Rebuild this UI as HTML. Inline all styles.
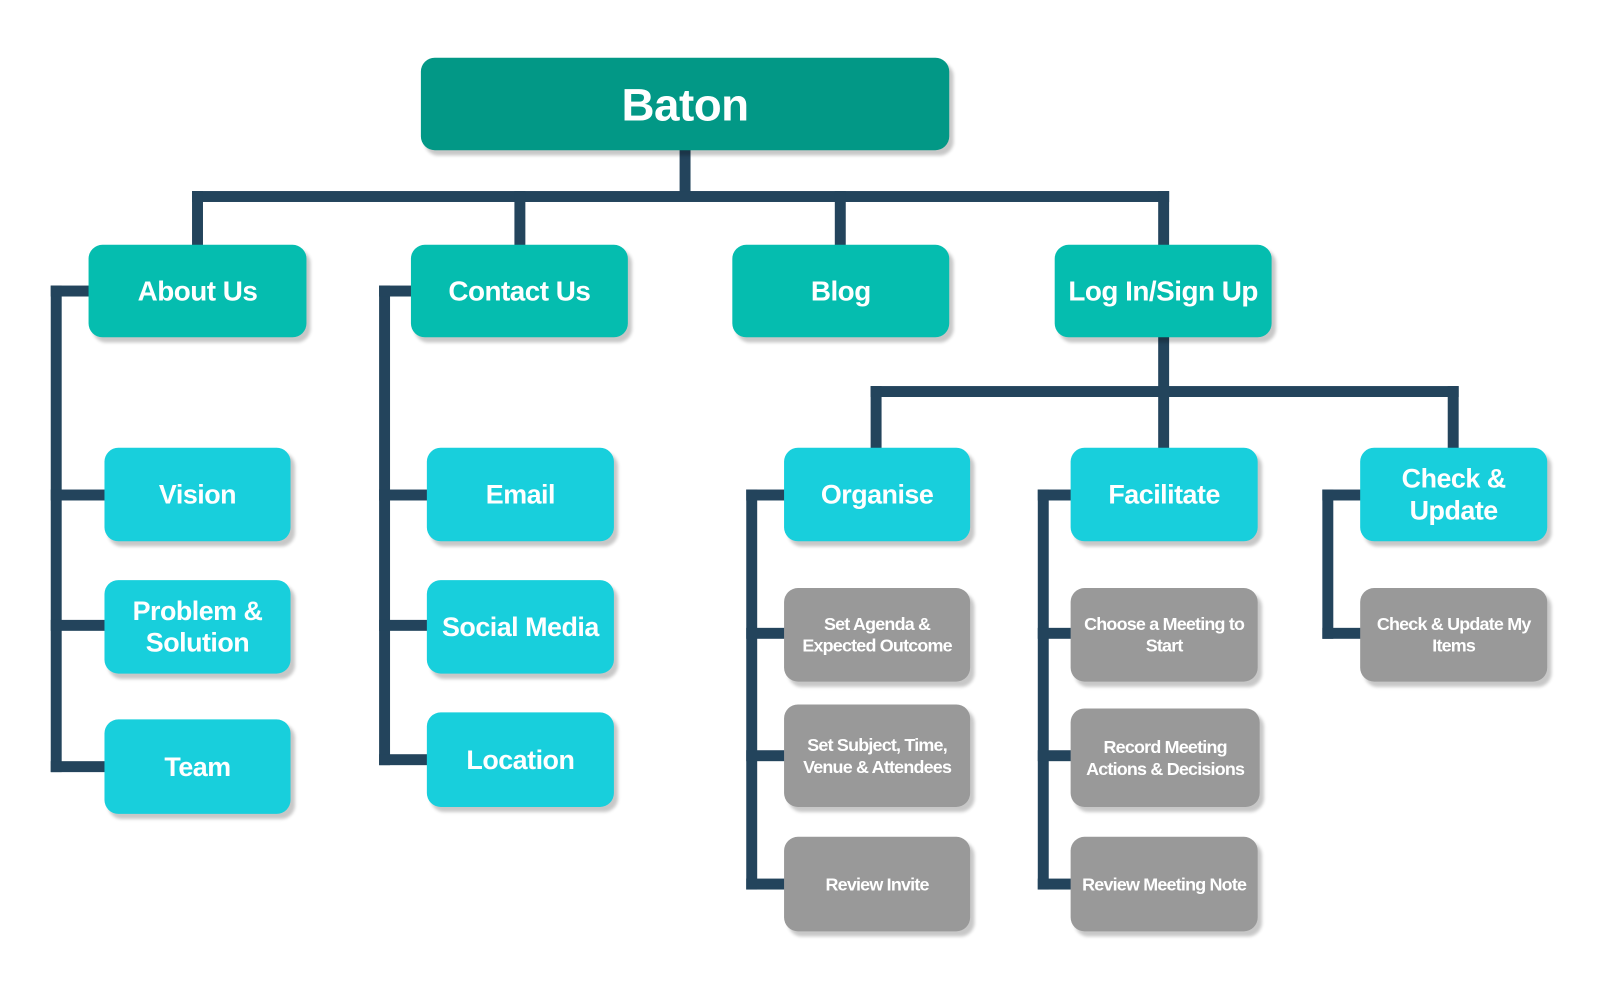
<!DOCTYPE html>
<html><head><style>
body{margin:0;width:1600px;height:994px;background:#fff;position:relative;overflow:hidden;font-family:"Liberation Sans",Arial,sans-serif}
#w{position:absolute;left:0;top:0;width:1600px;height:994px;transform:scale(0.995);transform-origin:0 0}
.b{position:absolute;border-radius:14px;color:#fff;font-weight:bold;display:flex;align-items:center;justify-content:center;text-align:center;box-shadow:4px 5px 3px rgba(0,0,0,0.22);letter-spacing:-0.5px}
.r{background:#029886;font-size:46px}
.l1{background:#05bdaf;font-size:28px}
.l2{background:#18cfdc;font-size:27px;line-height:32px}
.g{background:#999;font-size:18px;line-height:22px;letter-spacing:-0.8px}
.ln{position:absolute;background:#23445c}
</style></head><body><div id="w">
<div class="ln" style="left:683px;top:150px;width:11px;height:52px"></div>
<div class="ln" style="left:193px;top:192px;width:982px;height:11px"></div>
<div class="ln" style="left:193px;top:192px;width:11px;height:56px"></div>
<div class="ln" style="left:517px;top:192px;width:11px;height:56px"></div>
<div class="ln" style="left:839px;top:192px;width:11px;height:56px"></div>
<div class="ln" style="left:1164px;top:192px;width:11px;height:56px"></div>

<div class="ln" style="left:51px;top:287px;width:11px;height:489px"></div>
<div class="ln" style="left:51px;top:287px;width:40px;height:11px"></div>
<div class="ln" style="left:51px;top:492px;width:56px;height:11px"></div>
<div class="ln" style="left:51px;top:623px;width:56px;height:11px"></div>
<div class="ln" style="left:51px;top:765px;width:56px;height:11px"></div>

<div class="ln" style="left:381px;top:287px;width:11px;height:482px"></div>
<div class="ln" style="left:381px;top:287px;width:34px;height:11px"></div>
<div class="ln" style="left:381px;top:492px;width:50px;height:11px"></div>
<div class="ln" style="left:381px;top:623px;width:50px;height:11px"></div>
<div class="ln" style="left:381px;top:758px;width:50px;height:11px"></div>

<div class="ln" style="left:1164px;top:337px;width:11px;height:60px"></div>
<div class="ln" style="left:875px;top:388px;width:591px;height:11px"></div>
<div class="ln" style="left:875px;top:388px;width:11px;height:64px"></div>
<div class="ln" style="left:1164px;top:388px;width:11px;height:64px"></div>
<div class="ln" style="left:1455px;top:388px;width:11px;height:64px"></div>

<div class="ln" style="left:750px;top:492px;width:11px;height:402px"></div>
<div class="ln" style="left:750px;top:492px;width:40px;height:11px"></div>
<div class="ln" style="left:750px;top:631px;width:40px;height:11px"></div>
<div class="ln" style="left:750px;top:754px;width:40px;height:11px"></div>
<div class="ln" style="left:750px;top:883px;width:40px;height:11px"></div>

<div class="ln" style="left:1043px;top:492px;width:11px;height:402px"></div>
<div class="ln" style="left:1043px;top:492px;width:35px;height:11px"></div>
<div class="ln" style="left:1043px;top:631px;width:35px;height:11px"></div>
<div class="ln" style="left:1043px;top:754px;width:35px;height:11px"></div>
<div class="ln" style="left:1043px;top:883px;width:35px;height:11px"></div>

<div class="ln" style="left:1329px;top:492px;width:11px;height:150px"></div>
<div class="ln" style="left:1329px;top:492px;width:40px;height:11px"></div>
<div class="ln" style="left:1329px;top:631px;width:40px;height:11px"></div>

<div class="b r" style="left:423px;top:58px;width:531px;height:93px">Baton</div>

<div class="b l1" style="left:89px;top:246px;width:219px;height:93px">About Us</div>
<div class="b l1" style="left:413px;top:246px;width:218px;height:93px">Contact Us</div>
<div class="b l1" style="left:736px;top:246px;width:218px;height:93px">Blog</div>
<div class="b l1" style="left:1060px;top:246px;width:218px;height:93px">Log In/Sign Up</div>

<div class="b l2" style="left:105px;top:450px;width:187px;height:94px">Vision</div>
<div class="b l2" style="left:105px;top:583px;width:187px;height:94px">Problem &amp;<br>Solution</div>
<div class="b l2" style="left:105px;top:723px;width:187px;height:95px">Team</div>

<div class="b l2" style="left:429px;top:450px;width:188px;height:94px">Email</div>
<div class="b l2" style="left:429px;top:583px;width:188px;height:94px">Social Media</div>
<div class="b l2" style="left:429px;top:716px;width:188px;height:95px">Location</div>

<div class="b l2" style="left:788px;top:450px;width:187px;height:94px">Organise</div>
<div class="b l2" style="left:1076px;top:450px;width:188px;height:94px">Facilitate</div>
<div class="b l2" style="left:1367px;top:450px;width:188px;height:94px">Check &amp;<br>Update</div>

<div class="b g" style="left:788px;top:591px;width:187px;height:94px">Set Agenda &amp;<br>Expected Outcome</div>
<div class="b g" style="left:788px;top:708px;width:187px;height:103px">Set Subject, Time,<br>Venue &amp; Attendees</div>
<div class="b g" style="left:788px;top:841px;width:187px;height:95px">Review Invite</div>

<div class="b g" style="left:1076px;top:591px;width:188px;height:94px">Choose a Meeting to<br>Start</div>
<div class="b g" style="left:1076px;top:712px;width:190px;height:99px">Record Meeting<br>Actions &amp; Decisions</div>
<div class="b g" style="left:1076px;top:841px;width:188px;height:95px">Review Meeting Note</div>

<div class="b g" style="left:1367px;top:591px;width:188px;height:94px">Check &amp; Update My<br>Items</div>
</div></body></html>
